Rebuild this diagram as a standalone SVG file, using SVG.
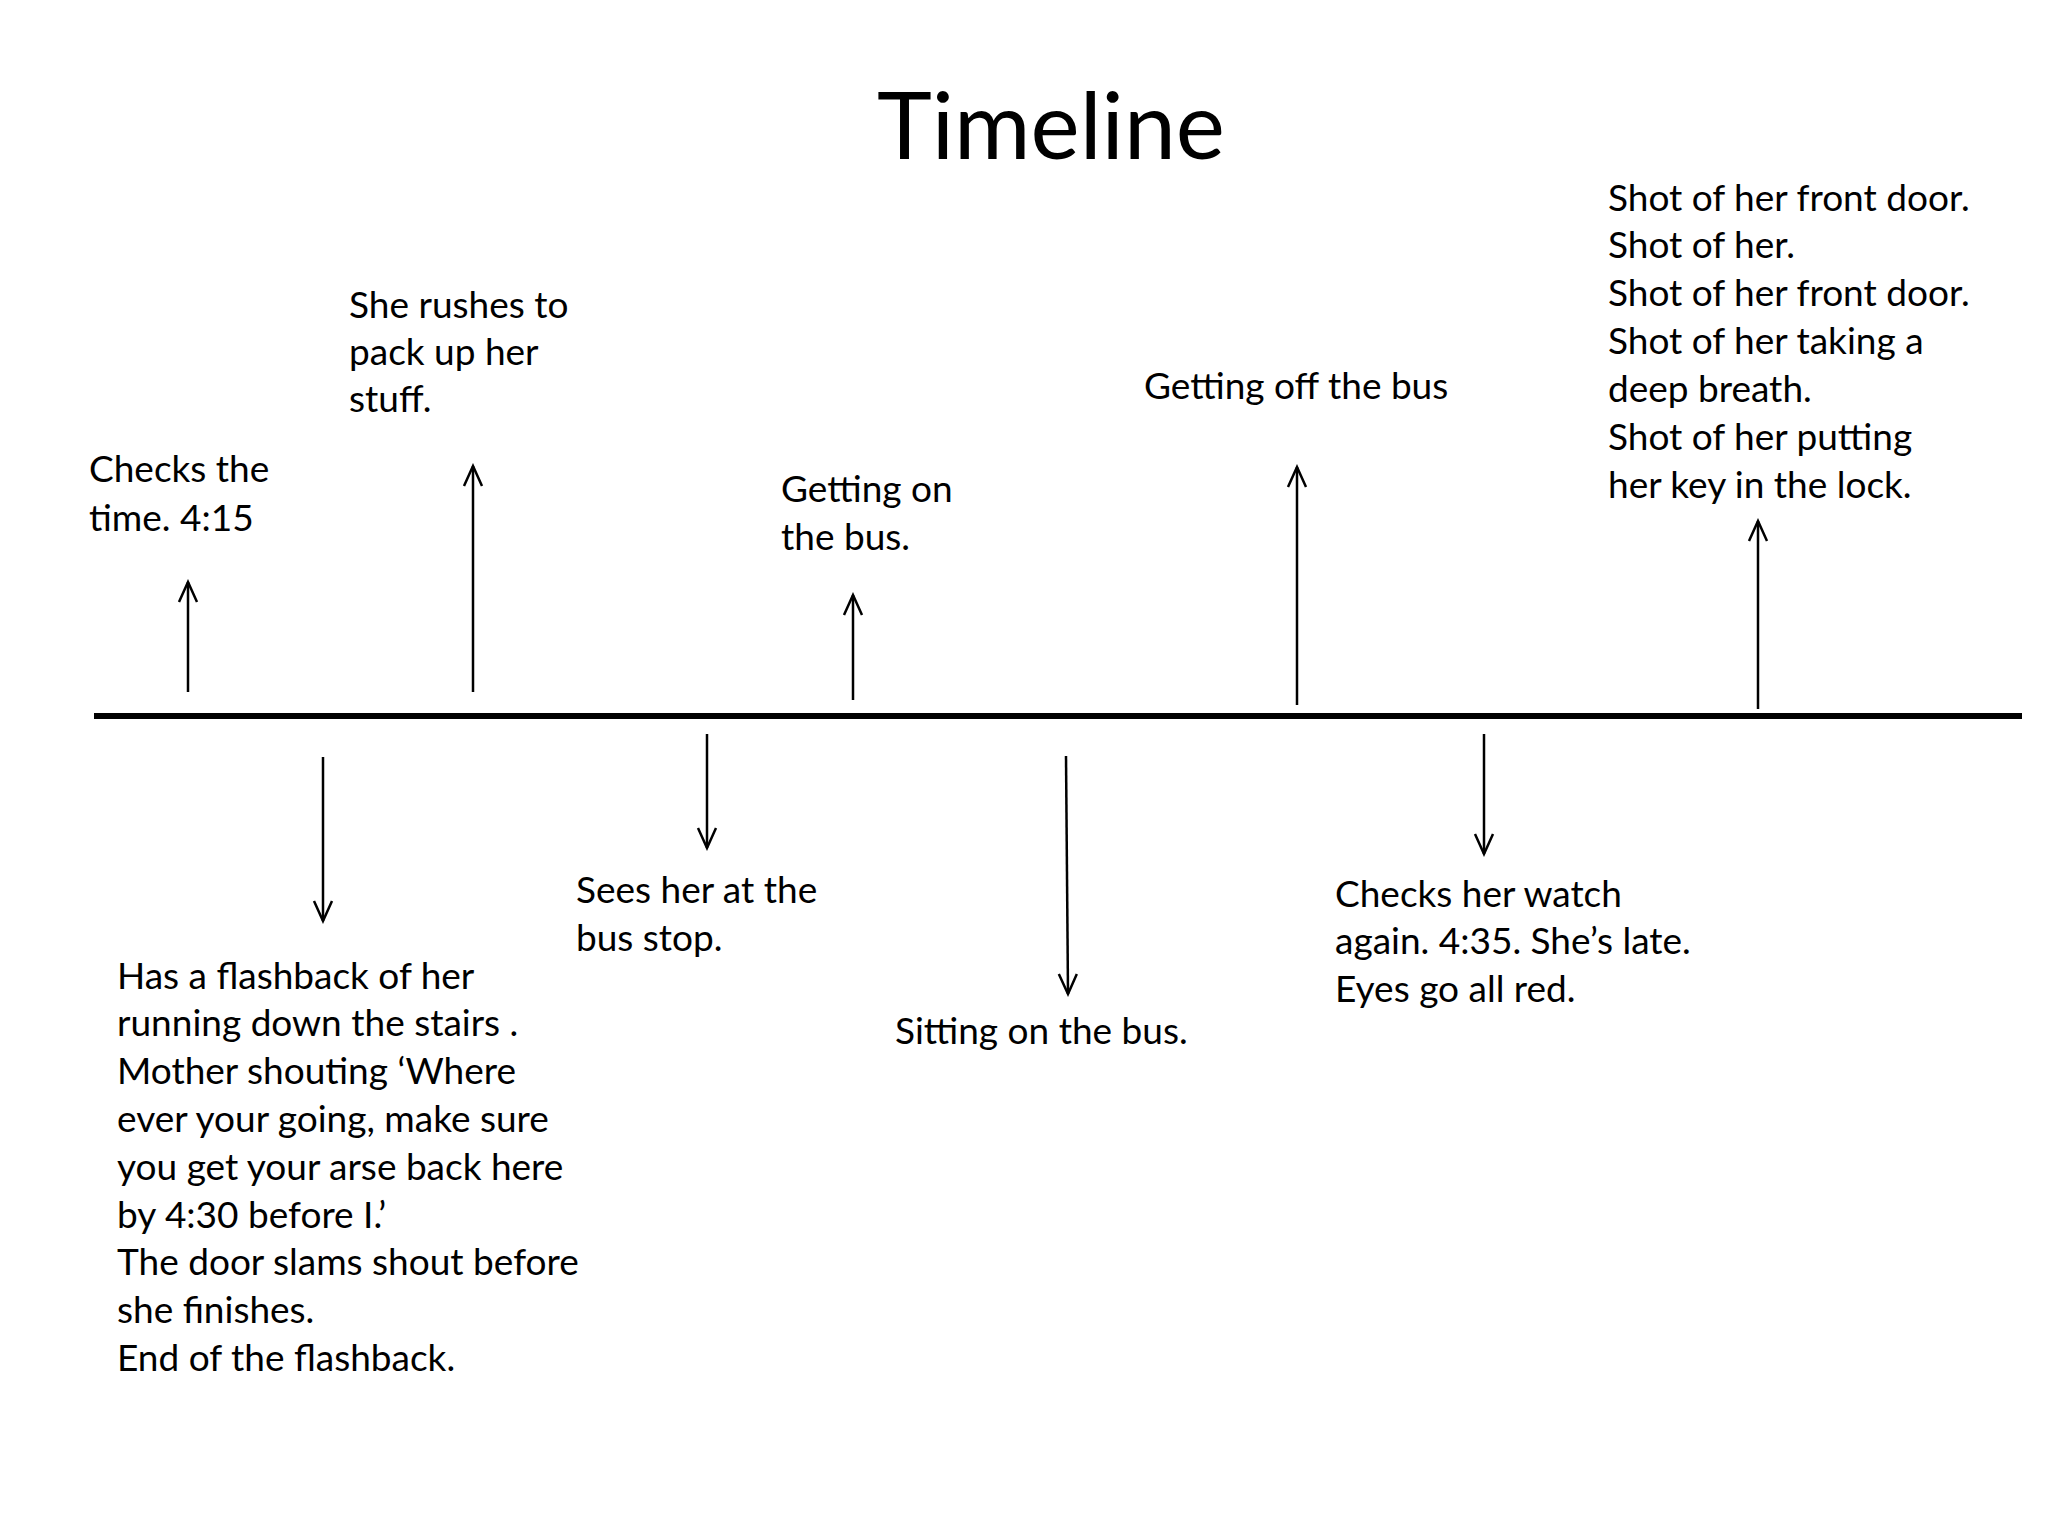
<svg xmlns="http://www.w3.org/2000/svg" width="2048" height="1536" viewBox="0 0 2048 1536">
<style>
.t{font-family:Lato,"Open Sans","Liberation Sans",sans-serif;font-size:37px;fill:#000}
.title{font-family:Lato,"Open Sans","Liberation Sans",sans-serif;font-size:93px;fill:#000}
.arr{stroke:#000;stroke-width:2.5;fill:none;marker-end:url(#ah)}
</style>
<defs>
<marker id="ah" markerUnits="userSpaceOnUse" markerWidth="26" markerHeight="26" viewBox="-23 -13 26 26" refX="0" refY="0" orient="auto">
<path d="M-20,-9 L0,0 L-20,9" stroke="#000" stroke-width="2.5" fill="none"/>
</marker>
<filter id="sh" x="-5%" y="-200%" width="110%" height="500%"><feGaussianBlur stdDeviation="2"/></filter>
</defs>
<rect width="2048" height="1536" fill="#fff"/>
<text class="title" x="1051" y="159" text-anchor="middle">Timeline</text>
<g id="axis">
<line x1="96" y1="721" x2="2024" y2="721" stroke="#999" stroke-width="5" filter="url(#sh)" opacity="0.6"/>
<line x1="94" y1="716" x2="2022" y2="716" stroke="#000" stroke-width="6"/>
</g>
<g id="connectors">
<line class="arr" x1="188" y1="692" x2="188" y2="582"/>
<line class="arr" x1="473" y1="692" x2="473" y2="466"/>
<line class="arr" x1="853" y1="700" x2="853" y2="595"/>
<line class="arr" x1="1297" y1="705" x2="1297" y2="467"/>
<line class="arr" x1="1758" y1="709" x2="1758" y2="521"/>
<line class="arr" x1="323" y1="757" x2="323" y2="921"/>
<line class="arr" x1="707" y1="734" x2="707" y2="848"/>
<line class="arr" x1="1066" y1="756" x2="1068" y2="994"/>
<line class="arr" x1="1484" y1="734" x2="1484" y2="854"/>
</g>
<g id="n1"><text class="t" x="89" y="482">Checks the</text><text class="t" x="89" y="531">time. 4:15</text></g>
<g id="n2"><text class="t" x="349" y="318">She rushes to</text><text class="t" x="349" y="365">pack up her</text><text class="t" x="349" y="412">stuff.</text></g>
<g id="n3"><text class="t" x="781" y="502">Getting on</text><text class="t" x="781" y="550">the bus.</text></g>
<g id="n4"><text class="t" x="1144" y="399">Getting off the bus</text></g>
<g id="n5">
<text class="t" x="1608" y="211">Shot of her front door.</text>
<text class="t" x="1608" y="258">Shot of her.</text>
<text class="t" x="1608" y="306">Shot of her front door.</text>
<text class="t" x="1608" y="354">Shot of her taking a</text>
<text class="t" x="1608" y="402">deep breath.</text>
<text class="t" x="1608" y="450">Shot of her putting</text>
<text class="t" x="1608" y="498">her key in the lock.</text>
</g>
<g id="n6">
<text class="t" x="117" y="989">Has a flashback of her</text>
<text class="t" x="117" y="1036">running down the stairs .</text>
<text class="t" x="117" y="1084">Mother shouting ‘Where</text>
<text class="t" x="117" y="1132">ever your going, make sure</text>
<text class="t" x="117" y="1180">you get your arse back here</text>
<text class="t" x="117" y="1228">by 4:30 before I.’</text>
<text class="t" x="117" y="1275">The door slams shout before</text>
<text class="t" x="117" y="1323">she finishes.</text>
<text class="t" x="117" y="1371">End of the flashback.</text>
</g>
<g id="n7"><text class="t" x="576" y="903">Sees her at the</text><text class="t" x="576" y="951">bus stop.</text></g>
<g id="n8"><text class="t" x="895" y="1044">Sitting on the bus.</text></g>
<g id="n9">
<text class="t" x="1335" y="907">Checks her watch</text>
<text class="t" x="1335" y="954">again. 4:35. She’s late.</text>
<text class="t" x="1335" y="1002">Eyes go all red.</text>
</g>
</svg>
